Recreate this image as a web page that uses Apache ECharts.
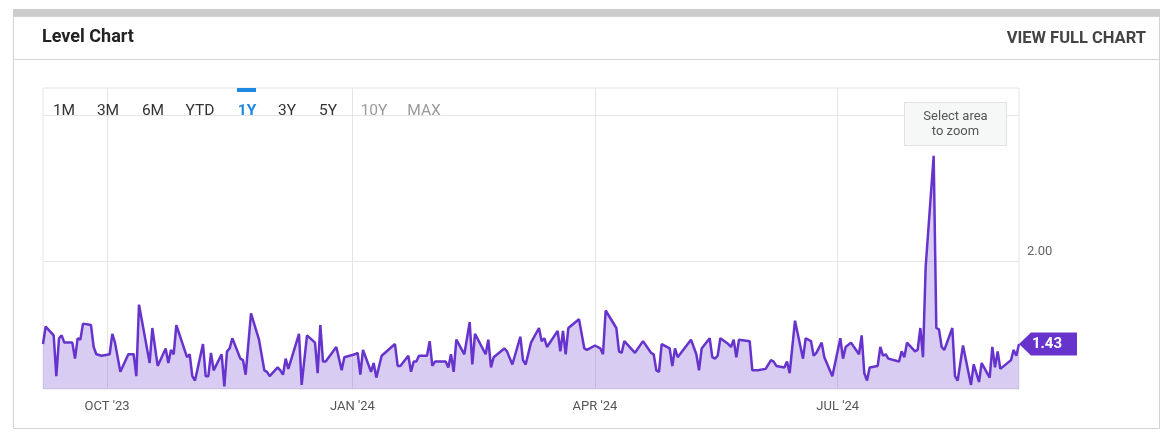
<!DOCTYPE html>
<html>
<head>
<meta charset="utf-8">
<script src="https://cdn.jsdelivr.net/npm/echarts@6/dist/echarts.min.js"></script>
<style>
html,body{margin:0;padding:0;background:#fff;}
#c{width:1169px;height:439px;}
</style>
</head>
<body>
<div id="c"></div>
<script>
const title = 'Level Chart';
const linkText = 'VIEW FULL CHART';
const rangeButtons = ['1M','3M','6M','YTD','1Y','3Y','5Y','10Y','MAX'];
const activeRange = '1Y';
const disabledRanges = ['10Y','MAX'];
const zoomHint = ['Select area', 'to zoom'];

const xMin = '2023-09-07';
const xMax = '2024-09-07';
const xTickDates = ['2023-10-01','2024-01-01','2024-04-01','2024-07-01'];
const xTickLabels = ["OCT '23","JAN '24","APR '24","JUL '24"];
const yGridValues = [2, 3];
const yTickValues = [2];
const yMin = 1.122;
const yMax = 3.185;

const dates = [
'2023-09-07','2023-09-08','2023-09-11','2023-09-12','2023-09-13','2023-09-14','2023-09-15','2023-09-18','2023-09-19','2023-09-20',
'2023-09-21','2023-09-22','2023-09-25','2023-09-26','2023-09-27','2023-09-29','2023-10-02','2023-10-03','2023-10-04','2023-10-06',
'2023-10-09','2023-10-11','2023-10-12','2023-10-13','2023-10-17','2023-10-18','2023-10-20','2023-10-23','2023-10-24','2023-10-25',
'2023-10-26','2023-10-27','2023-10-31','2023-11-01','2023-11-02','2023-11-03','2023-11-06',
'2023-11-07','2023-11-08','2023-11-09','2023-11-10','2023-11-13','2023-11-14','2023-11-15','2023-11-16','2023-11-17','2023-11-20',
'2023-11-21','2023-11-22','2023-11-24','2023-11-27','2023-11-29','2023-11-30','2023-12-01','2023-12-04','2023-12-05','2023-12-06',
'2023-12-07','2023-12-08','2023-12-12','2023-12-13','2023-12-15','2023-12-18','2023-12-19','2023-12-20','2023-12-21','2023-12-22',
'2023-12-26','2023-12-28','2023-12-29','2024-01-02','2024-01-03','2024-01-04','2024-01-05',
'2024-01-08','2024-01-09','2024-01-10','2024-01-12','2024-01-17','2024-01-18','2024-01-19','2024-01-22','2024-01-23','2024-01-24',
'2024-01-25','2024-01-26','2024-01-29','2024-01-30','2024-01-31','2024-02-01','2024-02-05','2024-02-06','2024-02-07','2024-02-08',
'2024-02-09','2024-02-12','2024-02-14','2024-02-15','2024-02-16','2024-02-20','2024-02-21','2024-02-22','2024-02-23','2024-02-27',
'2024-02-28','2024-03-01','2024-03-04','2024-03-05',
'2024-03-06','2024-03-08','2024-03-11','2024-03-12','2024-03-13','2024-03-14','2024-03-18','2024-03-19','2024-03-20','2024-03-21',
'2024-03-22','2024-03-26','2024-03-28','2024-03-29','2024-04-01','2024-04-02','2024-04-03','2024-04-04','2024-04-05','2024-04-09',
'2024-04-10','2024-04-11','2024-04-12','2024-04-16','2024-04-19','2024-04-22','2024-04-23','2024-04-24','2024-04-25','2024-04-26',
'2024-04-29','2024-04-30','2024-05-01','2024-05-02',
'2024-05-07','2024-05-09','2024-05-10','2024-05-11','2024-05-14','2024-05-15','2024-05-16','2024-05-17','2024-05-18','2024-05-21',
'2024-05-22','2024-05-23','2024-05-24','2024-05-25','2024-05-29','2024-05-30','2024-06-01','2024-06-04','2024-06-06','2024-06-07',
'2024-06-08','2024-06-11','2024-06-12','2024-06-13','2024-06-15','2024-06-18','2024-06-19','2024-06-21','2024-06-22','2024-06-23',
'2024-06-25','2024-06-26','2024-06-29','2024-07-02','2024-07-03',
'2024-07-04','2024-07-06','2024-07-09','2024-07-10','2024-07-11','2024-07-12','2024-07-13','2024-07-16','2024-07-17','2024-07-18',
'2024-07-19','2024-07-20','2024-07-24','2024-07-25','2024-07-26','2024-07-27','2024-07-30','2024-07-31','2024-08-01','2024-08-02',
'2024-08-03','2024-08-06','2024-08-07','2024-08-08','2024-08-09','2024-08-10','2024-08-13','2024-08-14','2024-08-15','2024-08-17',
'2024-08-20','2024-08-21','2024-08-23','2024-08-24','2024-08-27','2024-08-28','2024-08-29','2024-08-30','2024-08-31','2024-09-04',
'2024-09-05','2024-09-06','2024-09-07'
];
const values = [
1.43,1.55,1.49,1.21,1.47,1.49,1.44,1.44,1.33,1.47,
1.46,1.57,1.56,1.41,1.36,1.35,1.36,1.50,1.44,1.24,
1.36,1.36,1.21,1.70,1.30,1.54,1.28,1.40,1.30,1.39,
1.36,1.56,1.34,1.36,1.21,1.18,1.43,
1.21,1.21,1.37,1.25,1.36,1.14,1.38,1.40,1.47,1.33,
1.32,1.22,1.64,1.46,1.25,1.24,1.21,1.27,1.25,1.22,
1.33,1.26,1.50,1.15,1.49,1.44,1.23,1.56,1.31,1.31,
1.41,1.25,1.34,1.36,1.37,1.22,1.39,
1.24,1.30,1.20,1.35,1.43,1.28,1.28,1.35,1.24,1.31,
1.31,1.35,1.35,1.45,1.28,1.31,1.31,1.27,1.36,1.24,
1.46,1.36,1.58,1.29,1.50,1.36,1.46,1.27,1.34,1.40,
1.38,1.29,1.48,1.32,
1.29,1.44,1.54,1.45,1.47,1.41,1.52,1.38,1.52,1.36,
1.54,1.60,1.40,1.39,1.42,1.41,1.40,1.36,1.66,1.54,
1.38,1.37,1.45,1.37,1.45,1.37,1.36,1.25,1.24,1.43,
1.40,1.28,1.40,1.34,
1.46,1.36,1.25,1.40,1.47,1.34,1.33,1.35,1.47,1.43,
1.41,1.46,1.34,1.46,1.45,1.25,1.25,1.26,1.32,1.31,
1.28,1.27,1.31,1.23,1.59,1.33,1.47,1.45,1.35,1.37,
1.44,1.34,1.21,1.47,1.33,
1.41,1.44,1.36,1.49,1.23,1.18,1.27,1.28,1.41,1.35,
1.36,1.33,1.31,1.38,1.34,1.44,1.38,1.39,1.54,1.34,
1.96,2.72,1.54,1.53,1.41,1.39,1.54,1.21,1.18,1.42,
1.15,1.29,1.17,1.30,1.20,1.41,1.27,1.38,1.26,1.32,
1.39,1.35,1.43
];

const seriesData = dates.map((d, i) => [d, values[i]]);
const lastIdx = values.length - 1;

const PURPLE = '#6633cc';
const FONT = 'Roboto';

const btnX = [64,108,153,200,247,287,328,374,424];
const graphics = [
  { type:'rect', shape:{x:13,y:9,width:1147,height:8}, style:{fill:'#cccccc'}, z:10 },
  { type:'rect', shape:{x:13.5,y:16.5,width:1146,height:412}, style:{fill:null,stroke:'#d3d3d3',lineWidth:1}, z:10, silent:true },
  { type:'line', shape:{x1:13,y1:59.5,x2:1160,y2:59.5}, style:{stroke:'#d6d6d6',lineWidth:1}, z:10 },
  { type:'text', x:42, y:37, style:{text:title, font:'bold 18px ' + FONT, fill:'#222', verticalAlign:'middle', align:'left'}, z:10 },
  { type:'text', x:1146, y:38.5, style:{text:linkText, font:'bold 16.5px ' + FONT, fill:'#444', verticalAlign:'middle', align:'right'}, z:10 },
  { type:'rect', shape:{x:237,y:88,width:19,height:4}, style:{fill:'#1e88e5'}, z:10 },
  { type:'rect', shape:{x:904.5,y:102.5,width:102,height:43}, style:{fill:'#f6f7f7',stroke:'#e2e2e2',lineWidth:1}, z:10 },
  { type:'text', x:955.5, y:116.5, style:{text:zoomHint[0], font:'13px ' + FONT, fill:'#555', align:'center', verticalAlign:'middle'}, z:11 },
  { type:'text', x:955.5, y:132, style:{text:zoomHint[1], font:'13px ' + FONT, fill:'#555', align:'center', verticalAlign:'middle'}, z:11 }
];
rangeButtons.forEach((b, i) => {
  const active = b === activeRange;
  const disabled = disabledRanges.includes(b);
  graphics.push({ type:'text', x:btnX[i], y:111.5, style:{
    text:b, font:(active ? 'bold ' : '') + '15.5px ' + FONT,
    fill: active ? '#1e88e5' : (disabled ? '#9a9a9a' : '#333'),
    align:'center', verticalAlign:'middle'}, z:10 });
});

const gridLineData = xTickDates.map((d, i) => ({
    xAxis:d,
    label:{show:true, position:'start', formatter:xTickLabels[i], color:'#555', fontSize:13, fontFamily:FONT, distance:11}
  })).concat(yGridValues.map(v => ({yAxis:v, label:{show:false}})));

const chart = echarts.init(document.getElementById('c'), null, {renderer:'canvas'});
chart.setOption({
  animation:false,
  backgroundColor:'#fff',
  textStyle:{fontFamily:FONT},
  grid:{left:43, right:150, top:88, bottom:50, show:true, borderColor:'#e4e4e4', borderWidth:1, backgroundColor:'transparent'},
  xAxis:{
    type:'time', min:xMin, max:xMax,
    axisLine:{show:false}, axisTick:{show:false}, splitLine:{show:false},
    axisLabel:{show:false}
  },
  yAxis:{
    type:'value', position:'right', min:yMin, max:yMax,
    axisLine:{show:false}, axisTick:{show:false}, splitLine:{show:false},
    axisLabel:{
      customValues:yTickValues,
      formatter:function(v){ return Number(v).toFixed(2); },
      color:'#666', fontSize:13, margin:8, verticalAlign:'bottom', padding:[0,0,3,0], fontFamily:FONT
    }
  },
  graphic:graphics,
  series:[{
    type:'line',
    data:seriesData,
    showSymbol:false,
    symbol:'none',
    lineStyle:{color:PURPLE, width:2.5},
    itemStyle:{color:PURPLE},
    areaStyle:{color:'rgba(102,51,204,0.25)', opacity:1},
    z:3,
    markLine:{
      silent:true, symbol:'none', z:1, animation:false,
      lineStyle:{color:'#e6e6e6', width:1, type:'solid'},
      emphasis:{disabled:true},
      data: gridLineData
    },
    markPoint:{
      silent:true, z:6, animation:false,
      data:[{
        coord:[dates[lastIdx], values[lastIdx]],
        value:values[lastIdx],
        symbol:'path://M0,11.5 L12,0 L58,0 L58,23 L12,23 Z',
        symbolSize:[58,23],
        symbolKeepAspect:false,
        symbolOffset:[29,0],
        itemStyle:{color:PURPLE},
        label:{show:true, position:'inside', offset:[-1,0], formatter:function(p){return Number(p.value).toFixed(2);},
               color:'#fff', fontWeight:'bold', fontSize:15, fontFamily:FONT}
      }]
    }
  }]
});
</script>
</body>
</html>
